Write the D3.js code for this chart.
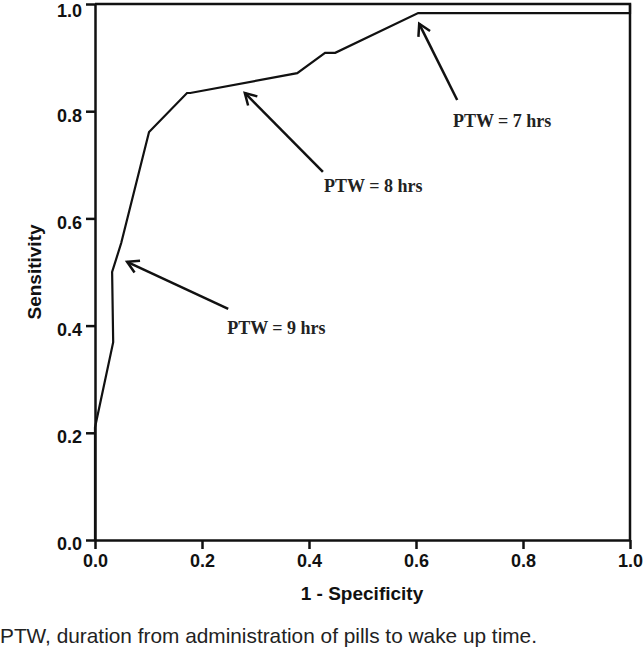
<!DOCTYPE html>
<html>
<head>
<meta charset="utf-8">
<script src="https://cdn.jsdelivr.net/npm/d3@7"></script>
<style>
  body { margin: 0; background: #fff; }
  .tick text { font-family: "Liberation Sans", Arial, sans-serif; font-weight: bold; font-size: 18px; fill: #111; }
  .tick line, .domain { stroke: #111; stroke-width: 2.5px; }
</style>
</head>
<body>
<div id="chart"></div>
<script>
// ROC curve points (1 - specificity, sensitivity)
const fpr = [0, 0, 0.034, 0.032, 0.049, 0.101, 0.172, 0.178, 0.378, 0.430, 0.449, 0.604, 1, 1];
const tpr = [0, 0.21, 0.369, 0.5, 0.554, 0.761, 0.834, 0.834, 0.871, 0.909, 0.909, 0.983, 0.983, 1];
const ticks = [0, 0.2, 0.4, 0.6, 0.8, 1.0];

// annotations: arrow tip, arrow tail and label anchor, in data units
const labels = ["PTW = 9 hrs", "PTW = 8 hrs", "PTW = 7 hrs"];
const tipX = [0.060, 0.280, 0.606];
const tipY = [0.519, 0.834, 0.963];
const tailX = [0.249, 0.426, 0.677];
const tailY = [0.431, 0.687, 0.821];
const textX = [0.247, 0.428, 0.669];
const textY = [0.384, 0.649, 0.771];

const w = 643;
const h = 650;
const svg = d3.select("#chart").append("svg").attr("width", w).attr("height", h);

const x = d3.scaleLinear().domain([0, 1]).range([95, 630]);
const y = d3.scaleLinear().domain([0, 1]).range([540, 4]);

// frame top and right
svg.append("path")
  .attr("d", `M${x(0)},${y(1)}H${x(1)}V${y(0)}`)
  .attr("fill", "none")
  .attr("stroke", "#111")
  .attr("stroke-width", 2.5);

const xAxis = d3.axisBottom(x).tickValues(ticks).tickFormat(d3.format(".1f"))
  .tickSize(9).tickSizeOuter(0).tickPadding(5);
svg.append("g").attr("transform", "translate(0," + y(0) + ")").call(xAxis);

const yAxis = d3.axisLeft(y).tickValues(ticks).tickFormat(d3.format(".1f"))
  .tickSize(9).tickSizeOuter(0).tickPadding(4);
svg.append("g").attr("transform", "translate(" + x(0) + ",0)").call(yAxis)
  .selectAll("text").attr("dy", (d) => (d === 1 ? "0.72em" : "0.55em"));

// curve
const pts = fpr.map((d, i) => [d, tpr[i]]);
svg.append("path")
  .datum(pts)
  .attr("fill", "none")
  .attr("stroke", "#111")
  .attr("stroke-width", 2.2)
  .attr("stroke-linejoin", "miter")
  .attr("d", d3.line().x((d) => x(d[0])).y((d) => y(d[1])));

// axis titles
svg.append("text")
  .attr("x", 362)
  .attr("y", 600)
  .attr("text-anchor", "middle")
  .style("font-family", "Liberation Sans, Arial, sans-serif")
  .style("font-weight", "bold")
  .style("font-size", "19px")
  .attr("fill", "#111")
  .text("1 - Specificity");

svg.append("text")
  .attr("transform", "translate(41,272) rotate(-90)")
  .attr("text-anchor", "middle")
  .style("font-family", "Liberation Sans, Arial, sans-serif")
  .style("font-weight", "bold")
  .style("font-size", "19px")
  .attr("fill", "#111")
  .text("Sensitivity");

// arrows
labels.forEach((lab, i) => {
  const x1 = x(tailX[i]), y1 = y(tailY[i]);
  const x2 = x(tipX[i]), y2 = y(tipY[i]);
  const ang = Math.atan2(y2 - y1, x2 - x1);
  const len = 13, spread = Math.PI / 6;
  const g = svg.append("g").attr("stroke", "#111").attr("stroke-width", 2.5).attr("fill", "none");
  g.append("line").attr("x1", x1).attr("y1", y1).attr("x2", x2).attr("y2", y2);
  g.append("path")
    .attr("stroke-linejoin", "miter")
    .attr("d",
      "M" + (x2 - len * Math.cos(ang - spread)) + "," + (y2 - len * Math.sin(ang - spread)) +
      "L" + x2 + "," + y2 +
      "L" + (x2 - len * Math.cos(ang + spread)) + "," + (y2 - len * Math.sin(ang + spread)));
  svg.append("text")
    .attr("x", x(textX[i]))
    .attr("y", y(textY[i]))
    .style("font-family", "Liberation Serif, Times New Roman, serif")
    .style("font-weight", "bold")
    .style("font-size", "18px")
    .attr("fill", "#222")
    .text(lab);
});

// caption
svg.append("text")
  .attr("x", 0)
  .attr("y", 643)
  .attr("textLength", 537)
  .attr("lengthAdjust", "spacingAndGlyphs")
  .style("font-family", "Liberation Sans, Arial, sans-serif")
  .style("font-size", "21px")
  .attr("fill", "#222")
  .text("PTW, duration from administration of pills to wake up time.");
</script>
</body>
</html>
